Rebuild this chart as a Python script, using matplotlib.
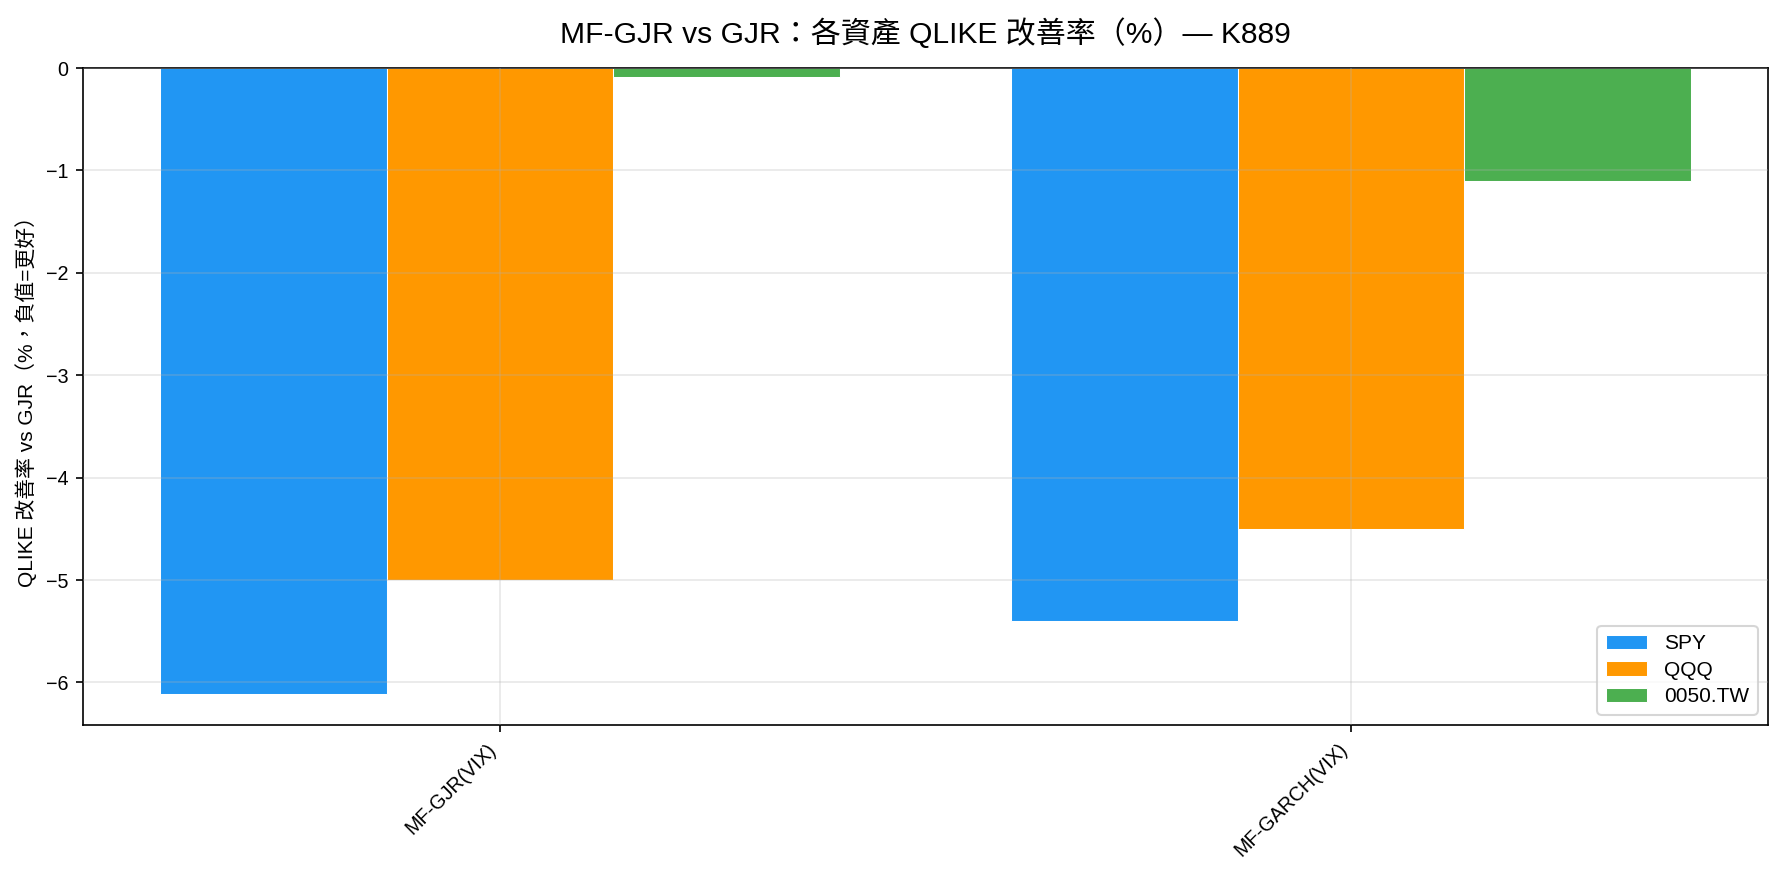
import numpy as np
import matplotlib
matplotlib.use("Agg")
import matplotlib.pyplot as plt

plt.rcParams['font.family'] = ['Liberation Sans', 'Noto Sans CJK TC', 'DejaVu Sans']
plt.rcParams['axes.unicode_minus'] = True

models = ["MF-GJR(VIX)", "MF-GARCH(VIX)"]
assets = ["SPY", "QQQ", "0050.TW"]
spy = [-6.11, -5.40]
qqq = [-5.00, -4.50]
tw0050 = [-0.09, -1.10]
colors = ["#2196F3", "#FF9800", "#4CAF50"]

series = [spy, qqq, tw0050]

fig = plt.figure(figsize=(1783/150, 883/150), dpi=150)
ax = fig.add_axes([83/1783, 1-725/883, (1768-83)/1783, (725-68)/883])

x = np.arange(len(models))
w = 0.8 / 3
for i, (vals, name, c) in enumerate(zip(series, assets, colors)):
    ax.bar(x + (i - 1) * w, vals, w, label=name, color=c, edgecolor='white', linewidth=0.5)

ax.set_xticks(x)
ax.set_xticklabels(models, rotation=45, ha='right', fontsize=9.5)
ax.tick_params(axis='y', labelsize=9.5)
ax.set_ylabel("QLIKE 改善率 vs GJR（%，負值=更好）", fontsize=10)
ax.grid(True, alpha=0.3)
ax.set_axisbelow(False)
ax.legend(loc='lower right', fontsize=10, labelspacing=0.36)
ax.set_title("MF-GJR vs GJR：各資產 QLIKE 改善率（%）— K889", fontsize=14.4, pad=12)

fig.savefig("out.png", dpi=150)
